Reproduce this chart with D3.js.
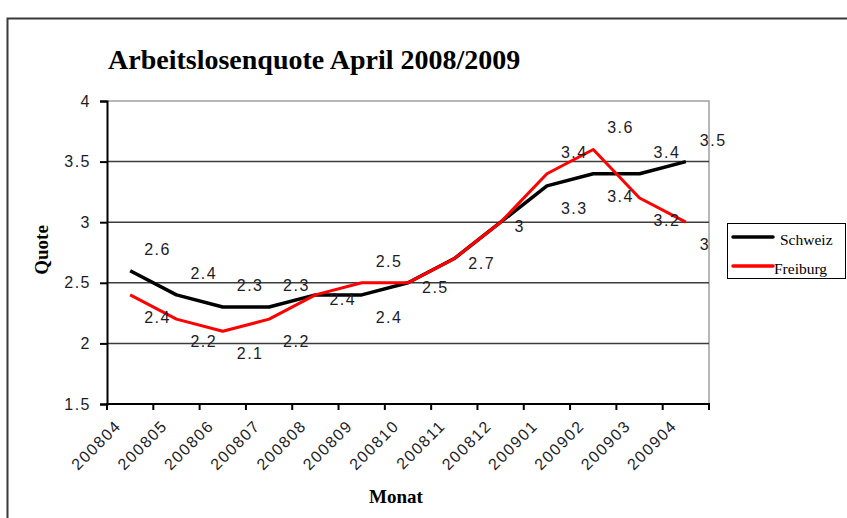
<!DOCTYPE html>
<html>
<head>
<meta charset="utf-8">
<script src="https://cdn.jsdelivr.net/npm/d3@7"></script>
<style>
  body { margin: 0; background: #fff; }
  svg { display: block; }
  .sans { font-family: "Liberation Sans", Arial, sans-serif; font-size: 16px; letter-spacing: 1.5px; fill: #1c1c28; }
  .serif { font-family: "Liberation Serif", "Times New Roman", serif; fill: #000; }
</style>
</head>
<body>
<div class="chart"></div>
<script>
'use strict';

var months = ['200804', '200805', '200806', '200807', '200808', '200809', '200810',
    '200811', '200812', '200901', '200902', '200903', '200904'];
var schweiz = [2.6, 2.4, 2.3, 2.3, 2.4, 2.4, 2.5, 2.7, 3.0, 3.3, 3.4, 3.4, 3.5];
var freiburg = [2.4, 2.2, 2.1, 2.2, 2.4, 2.5, 2.5, 2.7, 3.0, 3.4, 3.6, 3.2, 3.0];
var yTicks = [1.5, 2, 2.5, 3, 3.5, 4];
var seriesNames = ['Schweiz', 'Freiburg'];
var seriesColors = ['#000000', '#ff0000'];

var width = 847;
var height = 518;
var plot = { left: 107, right: 709, top: 101, bottom: 404 };

var svg = d3.select('div.chart').append('svg')
    .attr('width', width)
    .attr('height', height);

// outer chart frame (runs off the right and bottom edges)
svg.append('rect')
    .attr('x', 7.5).attr('y', 18.5)
    .attr('width', 900).attr('height', 600)
    .attr('fill', '#fff')
    .attr('stroke', '#3a3a3a')
    .attr('stroke-width', 2);

var x = d3.scaleBand()
    .domain(months)
    .range([plot.left, plot.right]);

var y = d3.scaleLinear()
    .domain([1.5, 4])
    .range([plot.bottom, plot.top]);

function cx(m) {
    return x(m) + x.bandwidth() / 2;
}

// plot area border (top / right in light gray)
svg.append('path')
    .attr('d', 'M' + plot.left + ',' + plot.top + 'H' + plot.right + 'V' + plot.bottom)
    .attr('fill', 'none')
    .attr('stroke', '#a0a0a0')
    .attr('stroke-width', 1.5);

// gridlines
svg.append('g').selectAll('line')
    .data(yTicks.filter(function (d) { return d > 1.5 && d < 4; }))
    .enter().append('line')
    .attr('x1', plot.left).attr('x2', plot.right)
    .attr('y1', function (d) { return y(d); })
    .attr('y2', function (d) { return y(d); })
    .attr('stroke', '#3c3c3c')
    .attr('stroke-width', 1.5);

// y axis
var yAxis = d3.axisLeft(y).tickValues(yTicks).tickSize(7).tickPadding(9)
    .tickFormat(function (d) { return String(d); });
var yAx = svg.append('g')
    .attr('transform', 'translate(' + plot.left + ',0)')
    .call(yAxis);
yAx.select('.domain').attr('stroke', '#000').attr('stroke-width', 2);
yAx.selectAll('.tick line').attr('stroke', '#000').attr('stroke-width', 2);
yAx.selectAll('.tick text')
    .attr('class', 'sans')
    .attr('font-family', null).attr('font-size', null);

// x axis: ticks on category boundaries, labels on category centres
var xAx = svg.append('g');
xAx.append('line')
    .attr('x1', plot.left - 1).attr('x2', plot.right + 1)
    .attr('y1', plot.bottom).attr('y2', plot.bottom)
    .attr('stroke', '#000').attr('stroke-width', 2);
xAx.selectAll('line.tick')
    .data(months.concat(['end']))
    .enter().append('line')
    .attr('class', 'tick')
    .attr('x1', function (d) { return d === 'end' ? plot.right : x(d); })
    .attr('x2', function (d) { return d === 'end' ? plot.right : x(d); })
    .attr('y1', plot.bottom).attr('y2', plot.bottom + 6)
    .attr('stroke', '#000').attr('stroke-width', 2);
xAx.selectAll('text')
    .data(months)
    .enter().append('text')
    .attr('class', 'sans')
    .attr('text-anchor', 'end')
    .attr('transform', function (d) {
        return 'translate(' + (cx(d) - 8) + ',' + (plot.bottom + 23) + ') rotate(-45)';
    })
    .text(function (d) { return d; });

// title and axis titles
svg.append('text')
    .attr('class', 'serif')
    .attr('x', 108).attr('y', 69)
    .attr('font-size', 28).attr('font-weight', 'bold')
    .text('Arbeitslosenquote April 2008/2009');

svg.append('text')
    .attr('class', 'serif')
    .attr('transform', 'translate(48,250) rotate(-90)')
    .attr('text-anchor', 'middle')
    .attr('font-size', 19).attr('font-weight', 'bold')
    .text('Quote');

svg.append('text')
    .attr('class', 'serif')
    .attr('x', 396).attr('y', 503)
    .attr('text-anchor', 'middle')
    .attr('font-size', 19).attr('font-weight', 'bold')
    .text('Monat');

// lines
var series = [schweiz, freiburg];
var line = d3.line()
    .x(function (d, i) { return cx(months[i]); })
    .y(function (d) { return y(d); });

svg.append('g').selectAll('path')
    .data(series)
    .enter().append('path')
    .attr('d', function (d) { return line(d); })
    .attr('fill', 'none')
    .attr('stroke', function (d, i) { return seriesColors[i]; })
    .attr('stroke-width', function (d, i) { return i === 0 ? 3.5 : 3; })
    .attr('stroke-linejoin', 'round');

// data labels: higher series above, lower series below, ties beside the point
var labels = svg.append('g');
series.forEach(function (vals, s) {
    var other = series[1 - s];
    labels.selectAll('text.s' + s)
        .data(vals)
        .enter().append('text')
        .attr('class', 'sans s' + s)
        .attr('x', function (d, i) { return cx(months[i]) + 14; })
        .attr('y', function (d, i) {
            if (d > other[i]) return y(d) - 16;
            if (d < other[i]) return y(d) + 28;
            return y(d) + 10;
        })
        .text(function (d, i) {
            // tied values share one label spot, draw it once
            return (s === 1 && d === other[i]) ? '' : String(d);
        });
});

// legend
var legend = svg.append('g');
legend.append('rect')
    .attr('x', 727.5).attr('y', 223.5)
    .attr('width', 118).attr('height', 55)
    .attr('fill', '#fff')
    .attr('stroke', '#000')
    .attr('stroke-width', 1);
var items = legend.selectAll('g.item')
    .data(seriesNames)
    .enter().append('g')
    .attr('class', 'item')
    .attr('transform', function (d, i) { return 'translate(733,' + (237 + i * 29) + ')'; });
items.append('line')
    .attr('x1', 0).attr('x2', 40)
    .attr('stroke', function (d, i) { return seriesColors[i]; })
    .attr('stroke-width', 3.5)
    .attr('stroke-linecap', 'round');
items.append('text')
    .attr('class', 'serif')
    .attr('x', function (d, i) { return i === 0 ? 47 : 41; })
    .attr('y', 8)
    .attr('font-size', 15.5)
    .text(function (d) { return d; });
</script>
</body>
</html>
